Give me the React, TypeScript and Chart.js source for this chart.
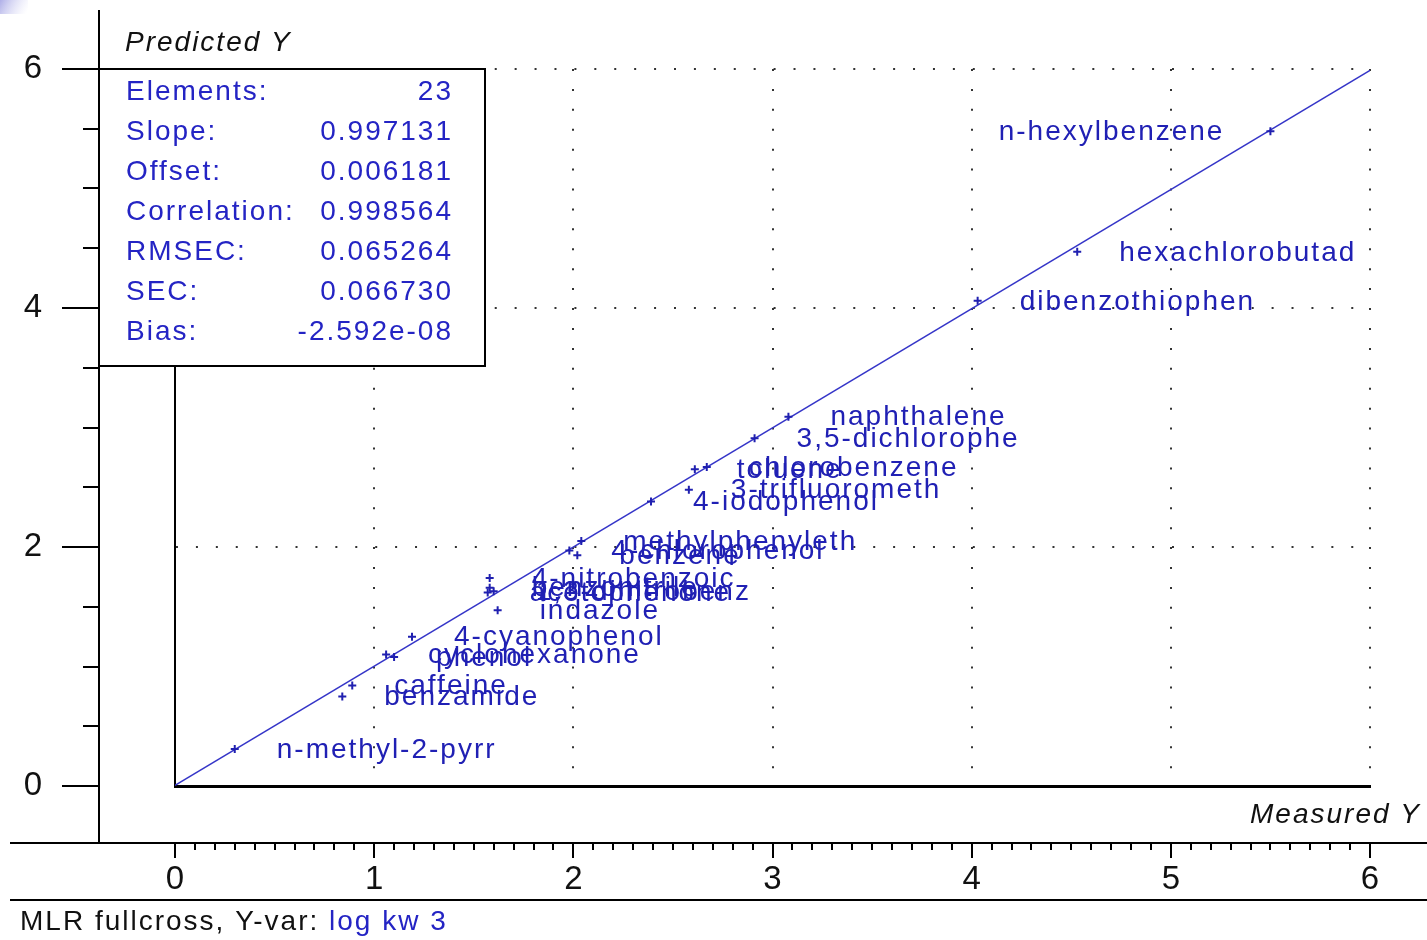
import React, { useEffect, useRef } from 'react';
import { Chart, registerables } from 'chart.js';

Chart.register(...registerables);

// ---- data ----
const compoundNames = [
  'n-hexylbenzene', 'hexachlorobutad', 'dibenzothiophen', 'naphthalene', '3,5-dichlorophe',
  'toluene', 'chlorobenzene', '3-trifluorometh', '4-iodophenol', 'methylphenyleth',
  '4-chlorophenol', 'benzene', '4-nitrobenzoic', 'benzonitrile', 'acetophenone',
  '1,3-dinitrobenz', 'indazole', '4-cyanophenol', 'cyclohexanone', 'phenol',
  'caffeine', 'benzamide', 'n-methyl-2-pyrr',
];
const measuredY = [
  5.50, 4.53, 4.03, 3.08, 2.91,
  2.61, 2.67, 2.58, 2.39, 2.04,
  1.98, 2.02, 1.58, 1.58, 1.57,
  1.60, 1.62, 1.19, 1.06, 1.10,
  0.89, 0.84, 0.30,
];
const predictedY = [
  5.48, 4.47, 4.06, 3.09, 2.91,
  2.65, 2.67, 2.48, 2.38, 2.05,
  1.97, 1.93, 1.74, 1.66, 1.62,
  1.63, 1.47, 1.25, 1.10, 1.08,
  0.84, 0.75, 0.31,
];
const regLineX = [0, 6];
const regLineY = [0.006, 5.989];

const xTickLabels = ['0', '1', '2', '3', '4', '5', '6'];
const yTickLabels = ['0', '2', '4', '6'];

const statNames = ['Elements:', 'Slope:', 'Offset:', 'Correlation:', 'RMSEC:', 'SEC:', 'Bias:'];
const statValues = ['23', '0.997131', '0.006181', '0.998564', '0.065264', '0.066730', '-2.592e-08'];

const yAxisTitle = 'Predicted Y';
const xAxisTitle = 'Measured Y';
const footerText = 'MLR fullcross, Y-var: ';
const footerVar = 'log kw 3';

// ---- styling ----
const BLUE_TEXT = '#2424c4';
const BLUE_LABEL = '#2020b4';
const FONT = '"Liberation Sans", Arial, sans-serif';

const decorPlugin = {
  id: 'decor',
  beforeDraw(chart: any) {
    const ctx = chart.ctx;
    ctx.save();
    ctx.fillStyle = '#ffffff';
    ctx.fillRect(0, 0, chart.width, chart.height);
    const g = ctx.createLinearGradient(0, 0, 26, 14);
    g.addColorStop(0, 'rgba(170,170,230,0.95)');
    g.addColorStop(1, 'rgba(215,215,245,0.0)');
    ctx.fillStyle = g;
    ctx.fillRect(0, 0, 28, 14);
    ctx.restore();
  },
  afterDatasetsDraw(chart: any) {
    const ctx = chart.ctx;
    const meta = chart.getDatasetMeta(0);
    const area = chart.chartArea;
    ctx.save();
    ctx.font = `28px ${FONT}`;
    (ctx as any).letterSpacing = '2px';
    ctx.fillStyle = BLUE_LABEL;
    ctx.textBaseline = 'middle';
    ctx.textAlign = 'left';
    meta.data.forEach((pt: any, i: number) => {
      const name = compoundNames[i];
      const w = ctx.measureText(name).width;
      let lx = pt.x + 42;
      if (lx + w > area.right) lx = pt.x - 46 - w;
      ctx.fillText(name, lx, pt.y + 1);
    });
    ctx.restore();
  },
  afterDraw(chart: any) {
    const ctx = chart.ctx;
    const xs = chart.scales.x;
    const ys = chart.scales.y;
    ctx.save();
    ctx.strokeStyle = '#000';
    ctx.lineCap = 'butt';

    // outer vertical axis with ticks
    ctx.lineWidth = 2;
    ctx.beginPath();
    ctx.moveTo(99, 10);
    ctx.lineTo(99, 843);
    ctx.stroke();
    for (let k = 0; k <= 12; k++) {
      const v = k * 0.5;
      const py = Math.round(ys.getPixelForValue(v));
      const major = k % 4 === 0;
      ctx.beginPath();
      ctx.moveTo(major ? 62 : 83, py);
      ctx.lineTo(99, py);
      ctx.stroke();
    }

    // bottom ruler
    ctx.lineWidth = 2;
    ctx.beginPath();
    ctx.moveTo(10, 843);
    ctx.lineTo(1427, 843);
    ctx.stroke();
    for (let k = 0; k <= 60; k++) {
      const px = Math.round(xs.getPixelForValue(k / 10));
      const major = k % 10 === 0;
      ctx.beginPath();
      ctx.moveTo(px, 843);
      ctx.lineTo(px, major ? 858 : 850);
      ctx.stroke();
    }
    ctx.beginPath();
    ctx.moveTo(10, 900);
    ctx.lineTo(1427, 900);
    ctx.stroke();

    // statistics box
    ctx.fillStyle = '#ffffff';
    ctx.fillRect(99, 69, 386, 297);
    ctx.lineWidth = 2;
    ctx.strokeRect(99, 69, 386, 297);
    ctx.beginPath();
    ctx.moveTo(62, 69);
    ctx.lineTo(99, 69);
    ctx.stroke();

    ctx.font = `28px ${FONT}`;
    (ctx as any).letterSpacing = '2px';
    ctx.fillStyle = BLUE_TEXT;
    ctx.textBaseline = 'middle';
    statNames.forEach((n, i) => {
      const cy = 92 + i * 40;
      ctx.textAlign = 'left';
      ctx.fillText(n, 126, cy);
      ctx.textAlign = 'right';
      ctx.fillText(statValues[i], 453, cy);
    });

    // axis titles
    ctx.fillStyle = '#111';
    ctx.font = `italic 28px ${FONT}`;
    ctx.textAlign = 'left';
    ctx.fillText(yAxisTitle, 125, 43);
    ctx.textAlign = 'right';
    ctx.fillText(xAxisTitle, 1421, 815);

    // footer
    ctx.font = `28px ${FONT}`;
    ctx.textAlign = 'left';
    ctx.fillStyle = '#111';
    ctx.fillText(footerText, 20, 922);
    const fw = ctx.measureText(footerText).width;
    ctx.fillStyle = BLUE_TEXT;
    ctx.fillText(footerVar, 20 + fw, 922);
    ctx.restore();
  },
};

export default function App() {
  const ref = useRef<HTMLCanvasElement | null>(null);

  useEffect(() => {
    if (!ref.current) return;
    const gridColor = (c: any) => (c.tick && c.tick.value === 0 ? 'rgba(0,0,0,0)' : '#333333');
    const chart = new Chart(ref.current, {
      type: 'scatter',
      data: {
        datasets: [
          {
            type: 'scatter',
            label: 'samples',
            data: measuredY.map((x, i) => ({ x, y: predictedY[i] })),
            pointStyle: 'cross',
            pointRadius: 4,
            pointBorderWidth: 2,
            borderColor: '#2020b0',
            backgroundColor: '#2020b0',
          },
          {
            type: 'line',
            label: 'regression',
            data: regLineX.map((x, i) => ({ x, y: regLineY[i] })),
            borderColor: '#3535c8',
            borderWidth: 1.5,
            pointRadius: 0,
            fill: false,
            tension: 0,
          },
        ],
      } as any,
      options: {
        responsive: false,
        animation: false,
        events: [],
        layout: { padding: { top: 69, right: 57, left: 0, bottom: 0 } },
        plugins: {
          legend: { display: false },
          tooltip: { enabled: false },
          title: { display: false },
        },
        scales: {
          x: {
            type: 'linear',
            position: 'bottom',
            min: 0,
            max: 6,
            afterFit: (s: any) => { s.height = 154; },
            ticks: {
              stepSize: 1,
              padding: 0,
              color: '#111',
              font: { family: FONT, size: 33 },
              callback: (_v: any, i: number) => xTickLabels[i],
            },
            grid: {
              drawTicks: true,
              tickLength: 74,
              tickColor: 'rgba(0,0,0,0)',
              lineWidth: 2,
              color: gridColor,
            },
            border: { display: true, color: '#000', width: 3, dash: [2, 17.92] },
          },
          y: {
            type: 'linear',
            position: 'left',
            min: 0,
            max: 6,
            afterFit: (s: any) => { s.width = 175; },
            ticks: {
              stepSize: 2,
              padding: 0,
              color: '#111',
              font: { family: FONT, size: 33 },
              callback: (_v: any, i: number) => yTickLabels[i],
            },
            grid: {
              drawTicks: true,
              tickLength: 133,
              tickColor: 'rgba(0,0,0,0)',
              lineWidth: 2,
              color: gridColor,
            },
            border: { display: true, color: '#000', width: 2, dash: [2, 17.92] },
          },
        },
      } as any,
      plugins: [decorPlugin as any],
    });
    return () => chart.destroy();
  }, []);

  return (
    <div style={{ position: 'fixed', left: 0, top: 0, width: 1427, height: 940, background: '#fff' }}>
      <canvas ref={ref} width={1427} height={940} style={{ display: 'block', width: 1427, height: 940 }} />
    </div>
  );
}
